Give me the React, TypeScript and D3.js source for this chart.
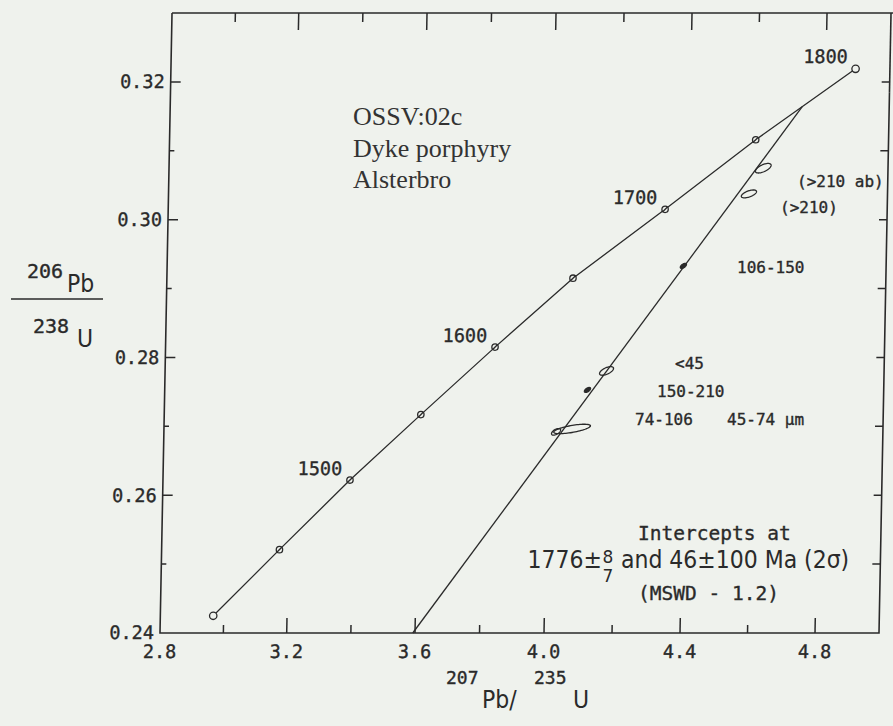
import React from "react";
import * as d3 from "d3";

const W = 893;
const H = 726;

// Concordia age markers (Ma) and their positions
const concordiaAges = [1400, 1450, 1500, 1550, 1600, 1650, 1700, 1750, 1800];
const concordiaX = [2.967, 3.172, 3.388, 3.605, 3.831, 4.065, 4.332, 4.596, 4.888];
const concordiaY = [0.2425, 0.2521, 0.2622, 0.2717, 0.2815, 0.2915, 0.3015, 0.3116, 0.3219];
const labeledAges = [1500, 1600, 1700, 1800];

// Discordia line end points
const discordiaX = [3.593, 4.732];
const discordiaY = [0.24, 0.3164];

// Zircon fractions (error ellipses)
const fracX = [4.62, 4.579, 4.389, 4.169, 4.114, 4.071, 4.024];
const fracY = [0.30747, 0.30374, 0.29329, 0.27804, 0.27528, 0.26962, 0.2692];
const fracSX = [0.0231, 0.0224, 0.009, 0.0204, 0.009, 0.0538, 0.0133];
const fracSY = [0.000695, 0.000571, 0.000362, 0.000624, 0.000362, 0.000684, 0.00048];
const fracRho = [0.61, 0.59, 0.56, 0.59, 0.56, 0.66, 0.55];
const fracFilled = [false, false, true, false, true, false, false];

// Fraction labels
const fractionLabels = ["(>210 ab)", "(>210)", "106-150", "<45", "150-210", "74-106", "45-74 \u00b5m"];

// Axis ticks
const xTicks = [3.0, 3.2, 3.4, 3.6, 3.8, 4.0, 4.2, 4.4, 4.6, 4.8];
const xMajor = [2.8, 3.2, 3.6, 4.0, 4.4, 4.8];
const xTickLabels = ["2.8", "3.2", "3.6", "4.0", "4.4", "4.8"];
const yTicks = [0.25, 0.26, 0.27, 0.28, 0.29, 0.3, 0.31, 0.32];
const yMajor = [0.24, 0.26, 0.28, 0.3, 0.32];
const yTickLabels = ["0.24", "0.26", "0.28", "0.30", "0.32"];

const sampleTitle = ["OSSV:02c", "Dyke porphyry", "Alsterbro"];

const BG = "#eff2ed";
const INK = "#2a2a2a";
const MONO = "'DejaVu Sans Mono', monospace";
const SANS = "'DejaVu Sans', sans-serif";
const SERIF = "'Liberation Serif', 'Times New Roman', serif";

const bold = { stroke: INK, strokeWidth: 0.35 } as const;

export default function App() {
  const x = d3
    .scaleLinear()
    .domain([2.8, 3.2, 3.6, 4.0, 4.4, 4.8, 4.99])
    .range([160, 286.7, 415, 544, 680, 815, 879]);
  const y = d3.scaleLinear().domain([0.24, 0.33]).range([633, 13]);

  const x0 = x(2.8);
  const x1 = x(4.99);
  const y0 = y(0.24);
  const y1 = y(0.33);
  const k = 12 / 619;
  const shear = `matrix(1,0,${-k},1,${k * y0},0)`;

  const isMajorX = (v: number) => xMajor.some((m) => Math.abs(m - v) < 1e-6);
  const isMajorY = (v: number) => yMajor.some((m) => Math.abs(m - v) < 1e-6);

  const line = d3
    .line<[number, number]>()
    .x((d) => x(d[0]))
    .y((d) => y(d[1]));

  const concordiaPts: [number, number][] = concordiaX.map((v, i) => [v, concordiaY[i]]);
  const discordiaPts: [number, number][] = discordiaX.map((v, i) => [v, discordiaY[i]]);

  const ellipsePath = (i: number) => {
    const n = 72;
    const r = fracRho[i];
    const pts: [number, number][] = d3.range(n).map((j) => {
      const t = (j / n) * Math.PI * 2;
      return [
        fracX[i] + fracSX[i] * Math.cos(t),
        fracY[i] + fracSY[i] * (r * Math.cos(t) + Math.sqrt(1 - r * r) * Math.sin(t)),
      ];
    });
    return d3
      .line<[number, number]>()
      .x((d) => x(d[0]))
      .y((d) => y(d[1]))
      .curve(d3.curveLinearClosed)(pts) as string;
  };

  // label anchors (screen px) for the fraction labels
  const fracLabelPos: [number, number][] = [
    [797, 187],
    [780, 213],
    [737, 273],
    [675, 369],
    [657, 397],
    [635, 425],
    [727, 425],
  ];

  return (
    <div style={{ position: "fixed", left: 0, top: 0, width: W, height: H }}>
      <svg width={W} height={H} style={{ display: "block" }}>
        <rect x={0} y={0} width={W} height={H} fill={BG} />
        <g transform={shear}>
          {/* frame */}
          <path
            d={`M${x0},${y1}H${x1 + 20}M${x0},${y1}V${y0}H${x1}V${y(0.3185)}`}
            fill="none"
            stroke={INK}
            strokeWidth={1.6}
          />
          <line x1={x1} x2={x1} y1={y(0.3185)} y2={y1} stroke={INK} strokeWidth={1.6} />
          {/* bottom & top ticks */}
          {xTicks.map((v) => (
            <g key={"xt" + v}>
              <line
                x1={x(v)}
                x2={x(v)}
                y1={y0}
                y2={y0 - (isMajorX(v) ? 15 : 8)}
                stroke={INK}
                strokeWidth={1.5}
              />
              <line
                x1={x(v)}
                x2={x(v)}
                y1={y1}
                y2={y1 + (isMajorX(v) ? 17 : 9)}
                stroke={INK}
                strokeWidth={1.5}
              />
            </g>
          ))}
          {/* left & right ticks */}
          {yTicks.map((v) => (
            <g key={"yt" + v}>
              <line
                x1={x0}
                x2={x0 + (isMajorY(v) ? 10 : 5)}
                y1={y(v)}
                y2={y(v)}
                stroke={INK}
                strokeWidth={1.5}
              />
              <line x1={x1} x2={x1 - 8} y1={y(v)} y2={y(v)} stroke={INK} strokeWidth={1.5} />
            </g>
          ))}
          {/* tick labels */}
          {xMajor.map((v, i) => (
            <text
              key={"xl" + v}
              x={x(v)}
              y={y0 + 25}
              textAnchor="middle"
              fontFamily={MONO}
              fontSize={18.5}
              fill={INK}
              {...bold}
            >
              {xTickLabels[i]}
            </text>
          ))}
          {yMajor.map((v, i) => (
            <text
              key={"yl" + v}
              x={x0 - 6}
              y={y(v) + 6.5}
              textAnchor="end"
              fontFamily={MONO}
              fontSize={18.5}
              fill={INK}
              {...bold}
            >
              {yTickLabels[i]}
            </text>
          ))}

          {/* concordia */}
          <path d={line(concordiaPts) as string} fill="none" stroke={INK} strokeWidth={1.3} />
          {/* discordia */}
          <path d={line(discordiaPts) as string} fill="none" stroke={INK} strokeWidth={1.3} />

          {/* fraction ellipses */}
          {fracX.map((_, i) => (
            <path
              key={"e" + i}
              d={ellipsePath(i)}
              fill={fracFilled[i] ? INK : "none"}
              stroke={INK}
              strokeWidth={1.3}
            />
          ))}

          {/* concordia age markers */}
          {concordiaAges.map((a, i) => {
            const cx = x(concordiaX[i]);
            const cy = y(concordiaY[i]);
            const end = i === 0 || i === concordiaAges.length - 1;
            return (
              <g key={"m" + a}>
                <circle cx={cx} cy={cy} r={end ? 3.7 : 3.2} fill={BG} stroke={INK} strokeWidth={1.3} />
                {!end && (
                  <line
                    x1={cx - 2.3}
                    y1={cy + 2.3}
                    x2={cx + 2.3}
                    y2={cy - 2.3}
                    stroke={INK}
                    strokeWidth={1.4}
                  />
                )}
              </g>
            );
          })}
          {concordiaAges.map((a, i) =>
            labeledAges.includes(a) ? (
              <text
                key={"al" + a}
                x={x(concordiaX[i]) - 8}
                y={y(concordiaY[i]) - 5.5}
                textAnchor="end"
                fontFamily={MONO}
                fontSize={18.5}
                fill={INK}
                {...bold}
              >
                {String(a)}
              </text>
            ) : null
          )}
        </g>

        {/* sample title */}
        {sampleTitle.map((t, i) => (
          <text
            key={"st" + i}
            x={353}
            y={125 + i * 31.5}
            fontFamily={SERIF}
            fontSize={26}
            fill="#333"
          >
            {t}
          </text>
        ))}

        {/* fraction labels */}
        {fractionLabels.map((t, i) => (
          <text
            key={"fl" + i}
            x={fracLabelPos[i][0]}
            y={fracLabelPos[i][1]}
            fontFamily={MONO}
            fontSize={16}
            fill={INK}
            {...bold}
          >
            {t}
          </text>
        ))}

        {/* intercepts annotation */}
        <text x={638} y={540} fontFamily={MONO} fontSize={19.5} fill={INK} {...bold}>
          Intercepts at
        </text>
        <g transform="translate(602,568) scale(0.88,1)">
          <text x={0} y={0} textAnchor="end" fontFamily={SANS} fontSize={25} fill={INK}>
            1776±
          </text>
        </g>
        <text x={608} y={563} textAnchor="middle" fontFamily={SANS} fontSize={17} fill={INK}>
          8
        </text>
        <text x={608} y={582} textAnchor="middle" fontFamily={SANS} fontSize={17} fill={INK}>
          7
        </text>
        <g transform="translate(621,568) scale(0.88,1)">
          <text x={0} y={0} fontFamily={SANS} fontSize={25} fill={INK}>
            and 46±100 Ma (2σ)
          </text>
        </g>
        <text x={638} y={600} fontFamily={MONO} fontSize={19.5} fill={INK} {...bold}>
          (MSWD - 1.2)
        </text>

        {/* y axis title: 206Pb / 238U */}
        <text x={27} y={278} fontFamily={MONO} fontSize={20} fill={INK} {...bold}>
          206
        </text>
        <g transform="translate(67,292) scale(0.88,1)">
          <text x={0} y={0} fontFamily={SANS} fontSize={25} fill={INK}>
            Pb
          </text>
        </g>
        <line x1={11} x2={103} y1={299} y2={299} stroke={INK} strokeWidth={1.6} />
        <text x={33} y={333} fontFamily={MONO} fontSize={20} fill={INK} {...bold}>
          238
        </text>
        <g transform="translate(77,347) scale(0.88,1)">
          <text x={0} y={0} fontFamily={SANS} fontSize={25} fill={INK}>
            U
          </text>
        </g>

        {/* x axis title: 207Pb/235U */}
        <text x={446} y={684} fontFamily={MONO} fontSize={18} fill={INK} {...bold}>
          207
        </text>
        <g transform="translate(482,708) scale(0.88,1)">
          <text x={0} y={0} fontFamily={SANS} fontSize={25} fill={INK}>
            Pb/
          </text>
        </g>
        <text x={534} y={684} fontFamily={MONO} fontSize={18} fill={INK} {...bold}>
          235
        </text>
        <g transform="translate(573,708) scale(0.88,1)">
          <text x={0} y={0} fontFamily={SANS} fontSize={25} fill={INK}>
            U
          </text>
        </g>
      </svg>
    </div>
  );
}
